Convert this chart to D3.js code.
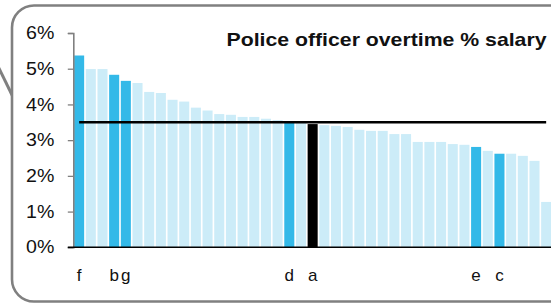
<!DOCTYPE html>
<html><head><meta charset="utf-8">
<script src="https://cdn.jsdelivr.net/npm/d3@7"></script>
<style>
html,body{margin:0;padding:0;background:#fff;}
svg{display:block;font-family:"Liberation Sans",Arial,sans-serif;}
</style></head>
<body><svg id="c" width="551" height="303"></svg>
<script>
// ---- data ----
const labels = ["f","","","b","g","","","","","","","","","","","","","","d","","a","","","","","","","","","","","","","","e","","c","","","",""];
const values = [5.37,4.99,4.99,4.83,4.66,4.60,4.35,4.32,4.13,4.08,3.91,3.83,3.73,3.71,3.65,3.65,3.60,3.56,3.50,3.48,3.45,3.42,3.40,3.37,3.29,3.26,3.26,3.17,3.17,2.95,2.95,2.95,2.89,2.87,2.81,2.70,2.62,2.62,2.56,2.42,1.27];
const highlighted = ["f","b","g","d","e","c"];
const focus = ["a"];
const average = 3.5;
const yTicks = [0,1,2,3,4,5,6];
const title = "Police officer overtime % salary";

const svg = d3.select("#c");
const idx = d3.range(values.length);
const x = d3.scaleBand().domain(idx).range([73.3, 552]).paddingInner(0.14).paddingOuter(0.07);
const y = d3.scaleLinear().domain([0,6]).range([247.3, 33]);

// callout connector
svg.append("line").attr("x1",-6).attr("y1",58).attr("x2",13).attr("y2",97)
  .attr("stroke","#808080").attr("stroke-width",3);
// frame
svg.append("rect").attr("x",12).attr("y",5.5).attr("width",560).attr("height",296)
  .attr("rx",22).attr("ry",22).attr("fill","#fff").attr("stroke","#808080").attr("stroke-width",2.6);

// bars
svg.append("g").selectAll("rect").data(idx).join("rect")
  .attr("x", i => x(i)).attr("width", x.bandwidth())
  .attr("y", i => y(values[i])).attr("height", i => y(0) - y(values[i]))
  .attr("fill", i => focus.includes(labels[i]) ? "#000000" : (highlighted.includes(labels[i]) ? "#33B9E8" : "#CCECF8"));

// y axis
const ya = svg.append("g").attr("transform","translate(73.3,0)")
  .call(d3.axisLeft(y).tickValues(yTicks).tickSize(5.5).tickFormat(d => d + "%"));
ya.select(".domain").attr("stroke","#808080").attr("stroke-width",1.6);
ya.selectAll(".tick line").attr("stroke","#808080").attr("stroke-width",1.3);
ya.selectAll(".tick text").attr("font-size",17.5).attr("fill","#111").attr("x",-19)
  .attr("font-family","Liberation Sans, Arial, sans-serif");
ya.selectAll(".tick text").attr("transform","scale(1.12,1)").attr("x", -19/1.12);

// x baseline
svg.append("line").attr("x1",67.8).attr("x2",551).attr("y1",y(0)).attr("y2",y(0))
  .attr("stroke","#000").attr("stroke-width",1.4);

// category labels
const xa = svg.append("g").attr("transform","translate(0,"+(y(0))+")")
  .call(d3.axisBottom(x).tickSize(0).tickFormat(i => labels[i]));
xa.select(".domain").remove();
xa.selectAll(".tick text").attr("font-size",17).attr("fill","#111").attr("y",22)
  .attr("font-family","Liberation Sans, Arial, sans-serif");

// average line
const line = d3.line().x(i => x(i) + x.bandwidth()/2).y(() => y(average));
svg.append("path").datum([idx[0], idx[idx.length-1]]).attr("d", line)
  .attr("fill","none").attr("stroke","#000").attr("stroke-width",2.6);

// title
svg.append("text").attr("x",226.5).attr("y",45.7).attr("font-size",19).attr("font-weight","bold")
  .attr("fill","#111").attr("textLength",320).attr("lengthAdjust","spacingAndGlyphs").text(title);
</script></body></html>
